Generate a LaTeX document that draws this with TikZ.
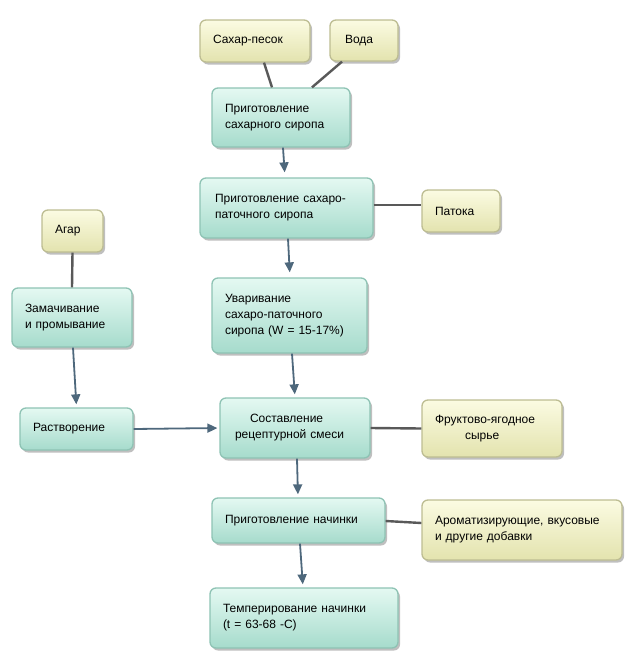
\documentclass[tikz,border=0pt]{standalone}
\usepackage{fontspec}
\setmainfont{Liberation Sans}
\usetikzlibrary{arrows.meta,shadows,calc}
\definecolor{tealtop}{HTML}{E4F9F2}
\definecolor{tealbot}{HTML}{A6DBCC}
\definecolor{tealborder}{HTML}{8EC3B4}
\definecolor{yeltop}{HTML}{FBFBE2}
\definecolor{yelbot}{HTML}{E3E3AE}
\definecolor{yelborder}{HTML}{BDBD92}
\definecolor{arrowcol}{HTML}{4E687C}
\definecolor{linecol}{HTML}{595959}
\begin{document}
\begin{tikzpicture}[x=1pt,y=-1pt,
  boxbase/.style={rounded corners=6pt, line width=1.3pt, inner sep=0pt,
    font=\fontsize{12}{16}\selectfont, align=left,
    drop shadow={shadow xshift=2pt, shadow yshift=-2.5pt, opacity=0.25, fill=black}},
  tealbox/.style={boxbase, draw=tealborder, top color=tealtop, bottom color=tealbot},
  yelbox/.style={boxbase, draw=yelborder, top color=yeltop, bottom color=yelbot},
  flow/.style={draw=arrowcol, line width=1.8pt, -{Triangle[length=10pt,width=9pt]}},
  plain/.style={draw=linecol, line width=2.4pt}]
\useasboundingbox (0,0) rectangle (633,659);
% yellow inputs
\node[yelbox, minimum width=110pt, minimum height=42pt, text width=84pt] (sugar) at (255,41) {Сахар-песок};
\node[yelbox, minimum width=68pt, minimum height=41pt, text width=38pt] (water) at (364,40.5) {Вода};
\node[yelbox, minimum width=78pt, minimum height=42pt, text width=52pt] (patoka) at (461,211) {Патока};
\node[yelbox, minimum width=61pt, minimum height=42pt, text width=35pt] (agar) at (72.5,231) {Агар};
\node[yelbox, minimum width=140pt, minimum height=57pt, text width=114pt] (fruit) at (492,428.5) {Фруктово-ягодное\\\hspace*{30pt}сырье};
\node[yelbox, minimum width=200pt, minimum height=60pt, text width=174pt] (arom) at (522,530) {Ароматизирующие, вкусовые\\и другие добавки};
% teal process boxes
\node[tealbox, minimum width=138pt, minimum height=59pt, text width=112pt] (b1) at (281,117.5) {Приготовление\\сахарного сиропа};
\node[tealbox, minimum width=173pt, minimum height=60pt, text width=143pt] (b2) at (286.5,208) {Приготовление сахаро-\\паточного сиропа};
\node[tealbox, minimum width=155pt, minimum height=75pt, text width=129pt] (b3) at (289.5,315.5) {Уваривание\\сахаро-паточного\\сиропа (W = 15-17\%)};
\node[tealbox, minimum width=150pt, minimum height=60pt, text width=120pt] (b4) at (295,428) {\hspace*{15pt}Составление\\рецептурной смеси};
\node[tealbox, minimum width=173pt, minimum height=45pt, text width=147pt] (b5) at (298.5,520.5) {Приготовление начинки};
\node[tealbox, minimum width=188pt, minimum height=60pt, text width=162pt] (b6) at (304,618) {Темперирование начинки\\(t = 63-68 -С)};
\node[tealbox, minimum width=120pt, minimum height=59pt, text width=94pt] (soak) at (72,317.5) {Замачивание\\и промывание};
\node[tealbox, minimum width=113pt, minimum height=42pt, text width=87pt] (diss) at (76.5,429) {Растворение};
% plain connectors
\draw[plain] ([xshift=9pt]sugar.south) -- ([xshift=-9pt]b1.north);
\draw[plain] ([xshift=-22pt]water.south) -- ([xshift=31pt]b1.north);
\draw[plain] ([yshift=3pt]b2.east) -- ([yshift=6pt]patoka.west);
\draw[plain] (agar.south) -- (soak.north);
\draw[plain] (b4.east) -- (fruit.west);
\draw[plain] ([yshift=-0.5pt]b5.east) -- ([yshift=7pt]arom.west);
% flow arrows
\draw[flow, shorten >=5pt] ([xshift=2pt]b1.south) -- ([xshift=-1.5pt]b2.north);
\draw[flow, shorten >=5pt] ([xshift=1.5pt]b2.south) -- ([xshift=0.5pt]b3.north);
\draw[flow, shorten >=3pt] ([xshift=2.5pt]b3.south) -- (b4.north);
\draw[flow, shorten >=3pt] ([xshift=1pt]soak.south) -- (diss.north);
\draw[flow, shorten >=2pt] (diss.east) -- (b4.west);
\draw[flow, shorten >=3pt] ([xshift=2pt]b4.south) -- ([xshift=-0.5pt]b5.north);
\draw[flow, shorten >=3pt] ([xshift=1.5pt]b5.south) -- ([xshift=-1pt]b6.north);
\end{tikzpicture}
\end{document}
